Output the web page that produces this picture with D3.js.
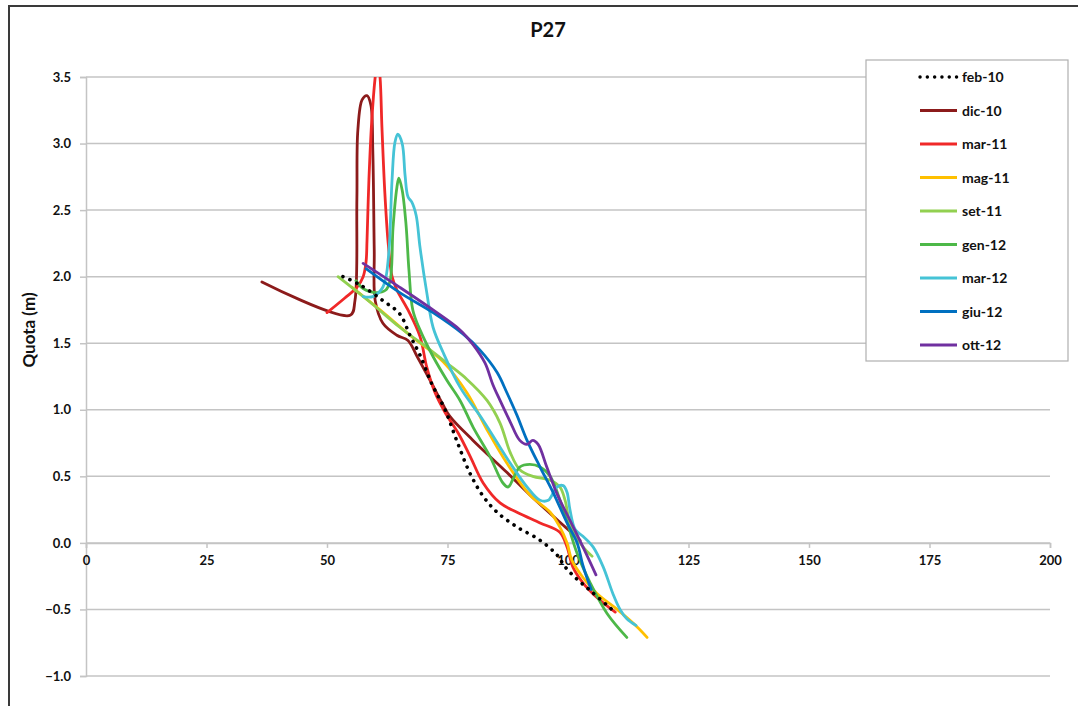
<!DOCTYPE html>
<html>
<head>
<meta charset="utf-8">
<script src="https://cdn.jsdelivr.net/npm/d3@7"></script>
<style>
  html, body { margin: 0; padding: 0; background: #fff; }
  svg { display: block; }
  text { font-family: Lato, "Open Sans", "DejaVu Sans", sans-serif; }
</style>
</head>
<body>
<svg id="chart" width="1078" height="706"></svg>
<script>
// ---------- DATA ----------
const title = "P27";
const yLabel = "Quota (m)";
const xTicks = [0, 25, 50, 75, 100, 125, 150, 175, 200];
const yTicks = [-1.0, -0.5, 0.0, 0.5, 1.0, 1.5, 2.0, 2.5, 3.0, 3.5];
const seriesNames = ["feb-10", "dic-10", "mar-11", "mag-11", "set-11", "gen-12", "mar-12", "giu-12", "ott-12"];
const seriesColors = ["#000000", "#8C1B1B", "#F02828", "#FFC000", "#92D050", "#4DB848", "#45C3D6", "#0070C0", "#7030A0"];

const feb10 = [[53.3,2.00],[56.8,1.94],[61.6,1.82],[65.1,1.72],[67.2,1.56],[69.3,1.41],[71.8,1.19],[74.5,1.00],[77.0,0.76],[79.7,0.52],[82.4,0.35],[85.3,0.23],[89.4,0.12],[94.2,0.02],[97.7,-0.09],[99.4,-0.18],[101.5,-0.26],[105.0,-0.37],[109.1,-0.50]];
const dic10 = [[36.5,1.96],[54.8,1.71],[55.8,1.82],[56.2,2.58],[56.4,3.10],[57.3,3.33],[58.3,3.36],[59.1,3.29],[59.5,2.95],[59.8,2.20],[60.0,1.82],[61.6,1.65],[64.5,1.56],[66.8,1.52],[68.7,1.40],[71.4,1.22],[73.9,1.05],[75.5,0.95],[80.3,0.77],[87.3,0.53],[92.1,0.36],[102.5,0.02]];
const mar11 = [[50.0,1.73],[53.7,1.84],[56.2,1.92],[57.5,2.00],[58.1,2.11],[58.3,2.27],[58.7,2.73],[59.3,3.18],[60.0,3.50],[60.5,3.64],[61.0,3.50],[61.4,3.12],[62.0,2.63],[62.7,2.25],[63.5,2.00],[64.5,1.90],[66.8,1.75],[69.3,1.55],[70.7,1.32],[72.4,1.13],[74.5,0.98],[77.3,0.82],[79.7,0.65],[82.4,0.45],[85.9,0.30],[89.4,0.23],[94.2,0.15],[98.3,0.08],[99.8,-0.03],[101.0,-0.18],[103.1,-0.30],[106.0,-0.41],[109.8,-0.52]];
const mag11 = [[55.2,1.92],[61.0,1.75],[67.2,1.56],[74.1,1.36],[79.0,1.13],[83.2,0.85],[87.3,0.60],[92.1,0.36],[96.3,0.23],[98.3,0.12],[99.8,0.00],[100.8,-0.13],[103.1,-0.26],[106.0,-0.38],[110.2,-0.50],[114.3,-0.63],[116.4,-0.71]];
const set11 = [[52.3,2.00],[58.9,1.81],[65.1,1.62],[71.4,1.45],[74.9,1.35],[79.0,1.23],[83.2,1.07],[85.9,0.90],[88.0,0.68],[90.0,0.55],[92.7,0.50],[96.3,0.47],[98.3,0.42],[99.4,0.32],[100.4,0.15],[103.1,-0.03],[105.0,-0.10]];
const gen12 = [[56.0,1.97],[57.5,1.91],[60.0,1.88],[62.2,1.90],[63.1,1.97],[63.7,2.37],[64.5,2.67],[64.9,2.74],[65.6,2.65],[66.4,2.39],[67.0,2.05],[67.8,1.75],[69.3,1.60],[72.0,1.40],[74.9,1.22],[77.6,1.07],[80.3,0.87],[83.8,0.65],[86.5,0.45],[87.6,0.42],[88.6,0.48],[90.0,0.57],[92.1,0.59],[94.2,0.57],[96.3,0.50],[99.0,0.25],[101.9,-0.08],[104.6,-0.30],[108.1,-0.53],[112.2,-0.71]];
const mar12 = [[57.5,1.85],[59.5,1.85],[61.4,1.91],[62.2,1.99],[62.9,2.22],[63.5,2.73],[64.1,3.01],[64.7,3.07],[65.6,3.00],[66.2,2.76],[66.8,2.60],[67.6,2.56],[68.5,2.46],[69.3,2.22],[70.7,1.88],[72.0,1.62],[74.1,1.43],[77.6,1.17],[82.4,0.92],[88.0,0.60],[91.5,0.42],[94.2,0.32],[95.9,0.32],[97.7,0.42],[99.0,0.43],[99.8,0.38],[100.4,0.25],[101.5,0.10],[103.1,0.05],[105.2,-0.03],[107.3,-0.18],[109.3,-0.38],[110.8,-0.50],[112.2,-0.57],[114.1,-0.62]];
const giu12 = [[58.1,2.06],[65.1,1.88],[72.0,1.73],[78.2,1.57],[81.7,1.45],[85.3,1.28],[87.3,1.13],[89.4,0.96],[91.5,0.77],[94.2,0.57],[96.9,0.38],[99.8,0.15],[101.9,0.00],[103.1,-0.17],[104.8,-0.35]];
const ott12 = [[57.5,2.10],[65.1,1.92],[72.0,1.75],[77.6,1.60],[80.3,1.49],[82.8,1.35],[84.4,1.19],[85.9,1.07],[88.0,0.91],[90.0,0.77],[91.5,0.74],[92.7,0.77],[93.8,0.74],[95.6,0.57],[97.7,0.37],[100.4,0.17],[103.1,-0.03],[105.8,-0.24]];

const seriesData = [feb10, dic10, mar11, mag11, set11, gen12, mar12, giu12, ott12];

// ---------- LAYOUT ----------
const svg = d3.select("#chart");
const plot = { left: 86, right: 1050, top: 77, bottom: 676 };
const x = d3.scaleLinear().domain([0, 200]).range([plot.left, plot.right]);
const y = d3.scaleLinear().domain([-1, 3.5]).range([plot.bottom, plot.top]);

svg.append("rect").attr("width", 1078).attr("height", 706).attr("fill", "#fff");
// outer chart frame (only top/left visible)
svg.append("rect").attr("x", 9).attr("y", 6).attr("width", 1100).attr("height", 740)
  .attr("fill", "none").attr("stroke", "#3a3a3a").attr("stroke-width", 2);

// title
svg.append("text").attr("x", 548).attr("y", 37).attr("text-anchor", "middle")
  .attr("font-size", 20).attr("font-weight", 700).attr("fill", "#111").text(title);

// gridlines
svg.append("g").selectAll("line").data(yTicks).join("line")
  .attr("x1", plot.left).attr("x2", plot.right)
  .attr("y1", d => y(d)).attr("y2", d => y(d))
  .attr("stroke", "#c4c4c4").attr("stroke-width", 1.5);

// y axis
const yAxis = svg.append("g").attr("transform", `translate(${plot.left},0)`)
  .call(d3.axisLeft(y).tickValues(yTicks).tickFormat(d3.format(".1f")).tickSize(6).tickPadding(9));
yAxis.select(".domain").attr("stroke", "#c4c4c4").attr("stroke-width", 1.5);
yAxis.selectAll(".tick line").attr("stroke", "#c4c4c4").attr("stroke-width", 1.5);
yAxis.selectAll("text").attr("font-size", 13).attr("font-weight", 700).attr("fill", "#111")
  .attr("font-family", "Lato, 'Open Sans', sans-serif");

// x axis at y = 0
const xAxis = svg.append("g").attr("transform", `translate(0,${y(0)})`)
  .call(d3.axisBottom(x).tickValues(xTicks).tickFormat(d3.format("d")).tickSize(5).tickPadding(8));
xAxis.select(".domain").attr("stroke", "#c4c4c4").attr("stroke-width", 1.5);
xAxis.selectAll(".tick line").attr("stroke", "#c4c4c4").attr("stroke-width", 1.5);
xAxis.selectAll("text").attr("font-size", 13).attr("font-weight", 700).attr("fill", "#111")
  .attr("font-family", "Lato, 'Open Sans', sans-serif");

// y label
svg.append("text").attr("transform", "translate(35,330) rotate(-90)")
  .attr("text-anchor", "middle").attr("font-size", 17).attr("font-weight", 700).attr("fill", "#111")
  .text(yLabel);

// clip
svg.append("clipPath").attr("id", "clip").append("rect")
  .attr("x", plot.left).attr("y", plot.top)
  .attr("width", plot.right - plot.left).attr("height", plot.bottom - plot.top);

const line = d3.line().x(d => x(d[0])).y(d => y(d[1])).curve(d3.curveCatmullRom.alpha(0.5));

const gLines = svg.append("g").attr("clip-path", "url(#clip)");
seriesData.forEach((data, i) => {
  const p = gLines.append("path").datum(data)
    .attr("d", line).attr("fill", "none")
    .attr("stroke", seriesColors[i]).attr("stroke-linejoin", "round");
  if (i === 0) {
    p.attr("stroke-width", 3.6).attr("stroke-linecap", "round").attr("stroke-dasharray", "0.1 7.5");
  } else {
    p.attr("stroke-width", 2.8).attr("stroke-linecap", "round");
  }
});
// dotted series on top
gLines.select("path").raise();

// legend
const lg = svg.append("g");
lg.append("rect").attr("x", 866).attr("y", 60).attr("width", 202).attr("height", 301)
  .attr("fill", "#fff").attr("stroke", "#b0b0b0").attr("stroke-width", 1.2);
const legendY0 = 77, legendStep = 33.5;
seriesNames.forEach((name, i) => {
  const ly = legendY0 + i * legendStep;
  const l = lg.append("line").attr("x1", 920).attr("x2", 957).attr("y1", ly).attr("y2", ly)
    .attr("stroke", seriesColors[i]);
  if (i === 0) l.attr("stroke-width", 3.4).attr("stroke-linecap", "round").attr("stroke-dasharray", "0.1 7.2");
  else l.attr("stroke-width", 3);
  lg.append("text").attr("x", 962).attr("y", ly + 5).attr("font-size", 14).attr("font-weight", 700)
    .attr("fill", "#111").text(name);
});
</script>
</body>
</html>
